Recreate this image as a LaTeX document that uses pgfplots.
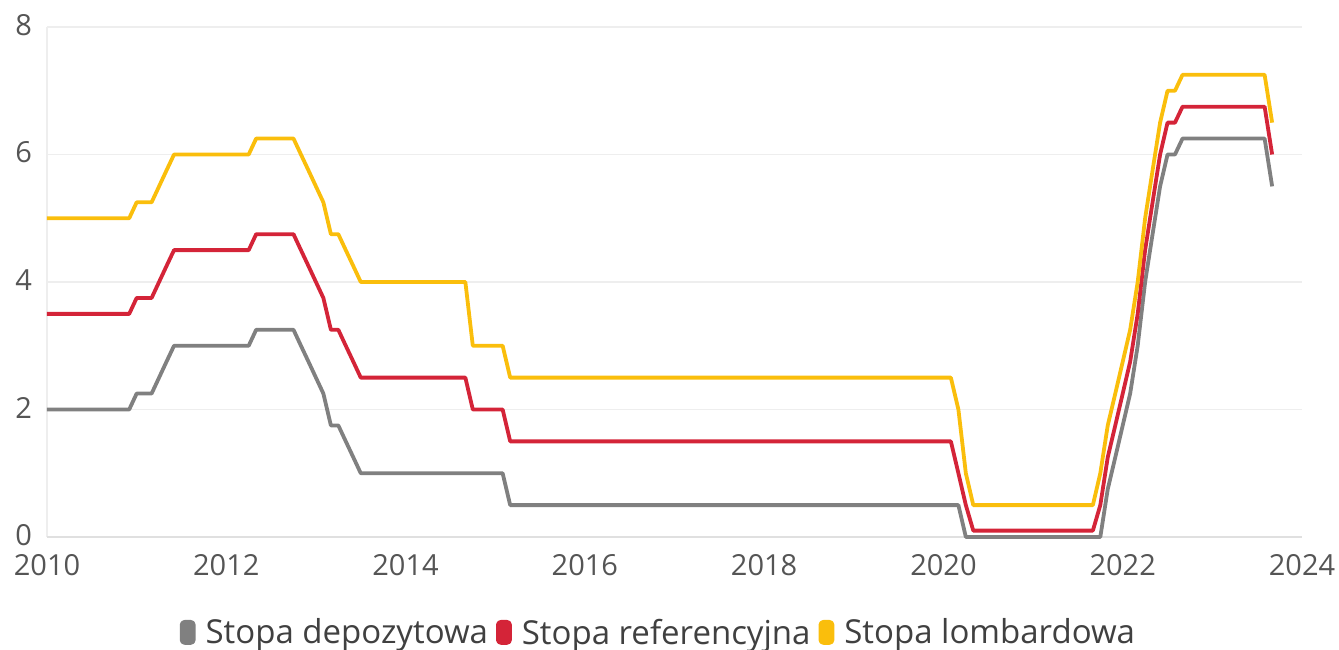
\documentclass[border=0pt]{standalone}
\usepackage{pgfplots}
\pgfplotsset{compat=1.18}
\usepackage{fontspec}
\setmainfont{Open Sans}
\definecolor{cgrey}{RGB}{128,128,128}
\definecolor{cred}{RGB}{212,36,56}
\definecolor{cyellow}{RGB}{250,190,12}
\definecolor{ctick}{RGB}{85,85,85}
\definecolor{cgrid}{RGB}{238,238,238}
\begin{document}
\begin{tikzpicture}
\begin{axis}[
  name=ax,
  scale only axis,
  width=627.5pt, height=255pt,
  xmin=2010, xmax=2024, ymin=0, ymax=8,
  xtick={2010,2012,...,2024},
  ytick={0,2,4,6,8},
  /pgf/number format/1000 sep={},
  /pgf/number format/assume math mode=true,
  tick label style={font=\fontsize{14.5}{17}\selectfont, text=ctick},
  yticklabel style={xshift=-4pt, yshift=1pt},
  xticklabel style={yshift=-5pt},
  major tick length=0pt,
  axis line style={draw=none},
  ymajorgrids,
  grid style={draw=cgrid, line width=0.8pt},
  clip=false,
  legend columns=3,
  legend style={draw=none, fill=none, at={(0.488,-0.188)}, anchor=center,
    font=\fontsize{16.5}{19}\selectfont, text=black!75,
    /tikz/every even column/.append style={column sep=2pt},
    /tikz/every odd column/.append style={column sep=3pt}},
  legend image code/.code={\fill[#1, rounded corners=1.5pt] (0pt,-5pt) rectangle (6pt,5.5pt);},
  every axis plot/.append style={line width=1.9pt, line join=round},
]
\draw[cgrid, line width=0.8pt] (axis cs:2010,0) -- (axis cs:2010,8);
\draw[black!12, line width=0.8pt] (axis cs:2010,0) -- (axis cs:2024,0);
\addplot[cgrey, mark=none] coordinates {
(2010.0,2.0) (2010.917,2.0) (2011.0,2.25) (2011.167,2.25) (2011.25,2.5) (2011.333,2.75) (2011.417,3.0)
(2012.25,3.0) (2012.333,3.25) (2012.75,3.25) (2012.833,3.0) (2012.917,2.75) (2013.0,2.5) (2013.083,2.25)
(2013.167,1.75) (2013.25,1.75) (2013.333,1.5) (2013.417,1.25) (2013.5,1.0) (2015.083,1.0) (2015.167,0.5)
(2020.167,0.5) (2020.25,0.0) (2021.75,0.0) (2021.833,0.75) (2021.917,1.25) (2022.0,1.75) (2022.083,2.25)
(2022.167,3.0) (2022.25,4.0) (2022.333,4.75) (2022.417,5.5) (2022.5,6.0) (2022.583,6.0) (2022.667,6.25)
(2023.583,6.25) (2023.667,5.5)
};
\addlegendentry{Stopa depozytowa}
\addplot[cred, mark=none] coordinates {
(2010.0,3.5) (2010.917,3.5) (2011.0,3.75) (2011.167,3.75) (2011.25,4.0) (2011.333,4.25) (2011.417,4.5)
(2012.25,4.5) (2012.333,4.75) (2012.75,4.75) (2012.833,4.5) (2012.917,4.25) (2013.0,4.0) (2013.083,3.75)
(2013.167,3.25) (2013.25,3.25) (2013.333,3.0) (2013.417,2.75) (2013.5,2.5) (2014.667,2.5) (2014.75,2.0)
(2015.083,2.0) (2015.167,1.5) (2020.083,1.5) (2020.167,1.0) (2020.25,0.5) (2020.333,0.1) (2021.667,0.1)
(2021.75,0.5) (2021.833,1.25) (2021.917,1.75) (2022.0,2.25) (2022.083,2.75) (2022.167,3.5) (2022.25,4.5)
(2022.333,5.25) (2022.417,6.0) (2022.5,6.5) (2022.583,6.5) (2022.667,6.75) (2023.583,6.75) (2023.667,6.0)
};
\addlegendentry{Stopa referencyjna}
\addplot[cyellow, mark=none] coordinates {
(2010.0,5.0) (2010.917,5.0) (2011.0,5.25) (2011.167,5.25) (2011.25,5.5) (2011.333,5.75) (2011.417,6.0)
(2012.25,6.0) (2012.333,6.25) (2012.75,6.25) (2012.833,6.0) (2012.917,5.75) (2013.0,5.5) (2013.083,5.25)
(2013.167,4.75) (2013.25,4.75) (2013.333,4.5) (2013.417,4.25) (2013.5,4.0) (2014.667,4.0) (2014.75,3.0)
(2015.083,3.0) (2015.167,2.5) (2020.083,2.5) (2020.167,2.0) (2020.25,1.0) (2020.333,0.5) (2021.667,0.5)
(2021.75,1.0) (2021.833,1.75) (2021.917,2.25) (2022.0,2.75) (2022.083,3.25) (2022.167,4.0) (2022.25,5.0)
(2022.333,5.75) (2022.417,6.5) (2022.5,7.0) (2022.583,7.0) (2022.667,7.25) (2023.583,7.25) (2023.667,6.5)
};
\addlegendentry{Stopa lombardowa}
\end{axis}
\pgfresetboundingbox
\path[use as bounding box] (-23.5pt,-56pt) rectangle (646pt,268.5pt);
\end{tikzpicture}
\end{document}
